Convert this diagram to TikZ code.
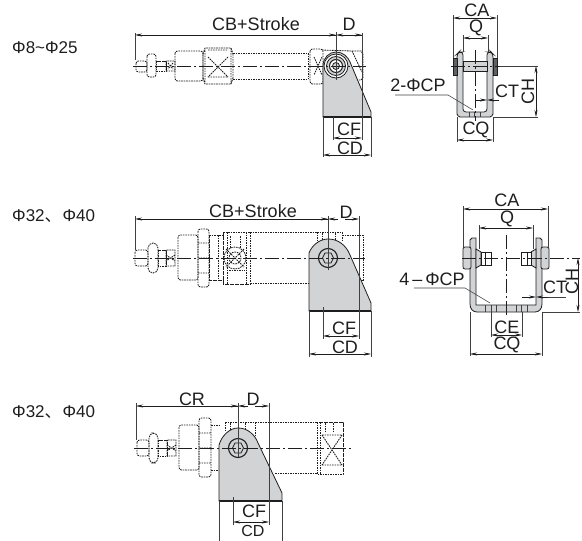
\documentclass[tikz,border=0pt]{standalone}
\usepackage{fontspec}
\setmainfont{Liberation Sans}
\newfontfamily\cjkf{Noto Sans CJK SC}
\usetikzlibrary{arrows.meta}
\definecolor{plategray}{HTML}{D2D3D5}
\definecolor{inkc}{HTML}{1E1E1E}
\tikzset{
 hid/.style={draw=inkc,line width=0.85pt,dash pattern=on 1.6pt off 0.9pt},
 hidr/.style={hid,rounded corners=2.5pt},
 plate/.style={draw=inkc,line width=0.8pt,fill=plategray},
 solidl/.style={draw=inkc,line width=0.8pt},
 ctr/.style={draw=inkc,line width=0.6pt,dash pattern=on 14pt off 3pt on 2pt off 3pt},
 dimt/.style={draw=inkc,line width=0.55pt,{Stealth[length=7pt,width=3pt]}-{Stealth[length=7pt,width=3pt]}},
 hd/.style={draw=inkc,line width=0.55pt,-{Stealth[length=7pt,width=3pt]}},
 extl/.style={draw=inkc!85,line width=0.55pt},
 lab/.style={font=\fontsize{18}{18}\selectfont,inner sep=0pt,text=inkc},
 side/.style={font=\fontsize{17}{17}\selectfont,inner sep=0pt,text=inkc,anchor=west},
}
\begin{document}
\begin{tikzpicture}[x=1pt,y=-1pt]
\useasboundingbox (0,0) rectangle (582,541);
\clip (0,0) rectangle (582,541);
% side texts
\node[side] (t1) at (12,48) {Φ8\textasciitilde Φ25};
\node[side] (t2) at (12,216) {Φ32{\cjkf 、}\kern1pt Φ40};
\node[side] (t3) at (12,412) {Φ32{\cjkf 、}\kern1pt Φ40};

%%%%%%%% ROW 1 side view
\draw[hidr] (136,61) rectangle (147,72);
\draw[hidr] (147,54) rectangle (156,77);
\draw[hid] (156,61) rectangle (166,71);
\draw[hid] (166,61) rectangle (175,71) (168,63)--(173,69) (173,63)--(168,69);
\draw[hidr] (175,51) rectangle (203,81);
\draw[hid] (203,54)--(205,48)--(231,48)--(233,54) (203,78)--(205,84)--(231,84)--(233,78) (205,48)--(205,84) (231,48)--(231,84) (203,54)--(203,78) (233,54)--(233,78);
\draw[hid] (208,57)--(228,77) (228,57)--(208,77) (208,50)--(228,50) (208,77)--(228,77);
\draw[hid] (233,53)--(308,53) (233,79)--(308,79) (308,53)--(308,79);
\draw[hidr] (310,49) rectangle (323,84);
\draw[hid] (314,57)--(322,75) (322,57)--(314,75);
\draw[hid] (322,50)--(352,51)--(361,51)--(363,54)--(363,78)--(361,80)--(355,80);
\draw[hid] (352,51)--(362,72);
\draw[plate] (323,117)--(323,66) .. controls (323,58) and (329,52) .. (336,52) .. controls (343,52) and (348,57) .. (350,62) -- (371,112) -- (371,117) -- cycle;
\draw[solidl,line width=1.3pt] (323,117)--(371,117);
\draw[solidl,fill=white] (336,66) circle (12);
\draw[solidl,fill=plategray] (336,66) circle (9.5);
\draw[solidl,line width=1pt,fill=white] (336,66) circle (6.5);
\draw[solidl,fill=plategray] (336,66) circle (3.5);
\draw[ctr] (133,66)--(366,66);
\draw[extl] (336,32)--(336,80);
\draw[extl] (135,33)--(135,60);
\draw[extl] (362,33)--(362,140);
\draw[extl] (333,117)--(333,140);
\draw[extl] (323,117)--(323,157);
\draw[extl] (371,117)--(371,157);
\draw[hd] (336,35)--(135,35);
\draw[hd] (362,35)--(336,35);
\draw[hd] (326,35)--(336,35);
\draw[hd] (345,35)--(362,35);
\draw[dimt] (333,138)--(362,138);
\draw[dimt] (323,155)--(371,155);
\node[lab] (a1) at (256,24) {CB+Stroke};
\node[lab] (a2) at (349,24) {D};
\node[lab] (a3) at (349,129) {CF};
\node[lab] (a4) at (350,148) {CD};

%%%%%%%% ROW 1 front view
\draw[plate,rounded corners=3pt] (457,54)--(459,52)--(463,52)--(463,112)--(487,112)--(487,52)--(491,52)--(493,54)--(493,111) .. controls (493,115) and (491,117) .. (487,117)--(463,117) .. controls (459,117) and (457,115) .. (457,111) --cycle;
\draw[plate] (463,61) rectangle (487,71);
\draw[solidl,fill=inkc!70] (453,58) rectangle (457,75);
\draw[solidl,fill=inkc!70] (493,58) rectangle (497,75);
\draw[extl] (469,112)--(469,117) (474,112)--(474,117) (480,112)--(480,117);
\draw[ctr] (475,50)--(475,121);
\draw[ctr] (451,66)--(500,66);
\draw[extl] (500,66)--(538,66);
\draw[extl] (453,15)--(453,58) (497,15)--(497,58);
\draw[extl] (463,35)--(463,52) (488,35)--(488,52);
\draw[dimt] (453,18)--(497,18);
\draw[dimt] (463,38)--(488,38);
\draw[extl] (493,117)--(538,117);
\draw[dimt] (536,66)--(536,117);
\draw[extl] (457,117)--(457,142) (493,117)--(493,142);
\draw[dimt] (457,140)--(493,140);
\draw[hd] (475,100)--(487,100);
\draw[hd] (499,100)--(487,100);
\node[lab] (b1) at (477,10) {CA};
\node[lab] (b2) at (476,28) {Q};
\node[lab] (b3) at (507,91) {CT};
\node[lab,rotate=90] (b4) at (528,91) {CH};
\node[lab] (b5) at (476,130) {CQ};
\node[lab] (b6) at (418,85) {2-ΦCP};
\coordinate (b7) at (395,95);
\coordinate (b8) at (448,95);
\coordinate (b9) at (473,110);
\draw[extl] (b7)--(b8)--(b9);

%%%%%%%% ROW 2 side view
\draw[hidr] (135,250) rectangle (148,266);
\draw[hidr,rounded corners=5pt] (148,243) rectangle (158,273);
\draw[hid] (158,250) rectangle (166,266);
\draw[hid] (166,250) rectangle (175,266) (166,255)--(175,261) (175,255)--(166,261);
\draw[hidr] (178,235) rectangle (198,280);
\draw[hidr] (198,229) rectangle (209,287) (198,243)--(209,243) (198,258)--(209,258) (198,273)--(209,273);
\draw[hid] (209,235)--(223,235)--(223,280)--(209,280)--cycle (218,235)--(218,280);
\draw[hid] (223,232)--(250,232)--(250,284)--(223,284)--cycle (227,232)--(227,284) (246,232)--(246,284);
\draw[hid] (230,236)--(230,248) (240,236)--(240,248) (229,270)--(245,270);
\draw[hid] (235,258) circle (11);
\draw[hid] (235,258) circle (6);
\draw[hid] (226,249)--(244,267) (244,249)--(226,267);
\draw[hid] (250,232)--(317,232) (250,283)--(317,283);
\draw[hid] (317,232)--(317,240) (317,232)--(342,232)--(342,240);
\draw[hid] (322,233)--(322,240) (328,233)--(328,240) (335,233)--(335,240);
\draw[hid] (342,235)--(363,235)--(363,280)--(354,280);
\draw[plate] (309,311)--(309,253) .. controls (312,245) and (320,239) .. (328,239) .. controls (338,239) and (346,245) .. (350,255) -- (371,303) -- (371,311) -- cycle;
\draw[solidl,line width=1.3pt] (309,311)--(371,311);
\draw[solidl,line width=1.1pt,fill=plategray] (328,258) circle (9.5);
\draw[solidl] (322.5,258)--(325,253)--(331,253)--(333.5,258)--(331,263)--(325,263)--cycle;
\draw[ctr] (133,258)--(365,258);
\draw[extl] (328,216)--(328,270);
\draw[extl] (135,216)--(135,250);
\draw[extl] (359,216)--(359,339);
\draw[extl] (323,307)--(323,339);
\draw[extl] (309,311)--(309,357);
\draw[extl] (371,311)--(371,357);
\draw[hd] (328,219)--(135,219);
\draw[hd] (318,219)--(328,219);
\draw[hd] (338,219)--(328,219);
\draw[hd] (345,219)--(359,219);
\draw[dimt] (323,336)--(359,336);
\draw[dimt] (309,354)--(371,354);
\node[lab] (c1) at (253,211) {CB+Stroke};
\node[lab] (c2) at (346,212) {D};
\node[lab] (c3) at (344,328) {CF};
\node[lab] (c4) at (345,347) {CD};

%%%%%%%% ROW 2 front view
\draw[plate] (470,240)--(472,238)--(476,238)--(476,305)--(536,305)--(536,238)--(540,238)--(542,240)--(542,304) .. controls (542,309) and (539,312) .. (535,312)--(477,312) .. controls (473,312) and (470,309) .. (470,304) -- cycle;
\draw[plate,rounded corners=2pt] (463,247) rectangle (471,269);
\draw[plate,rounded corners=2pt] (541,247) rectangle (549,269);
\draw[plate] (476,249)--(481,252)--(481,265)--(476,268)--cycle;
\draw[plate] (536,249)--(531,252)--(531,265)--(536,268)--cycle;
\draw[solidl,fill=white] (481,252) rectangle (491,265) (485,252)--(485,265);
\draw[solidl,fill=white] (521,252) rectangle (531,265) (527,252)--(527,265);
\draw[extl] (485,305)--(485,312) (491,305)--(491,312) (496,305)--(496,312) (516,305)--(516,312) (521,305)--(521,312) (527,305)--(527,312);
\draw[ctr] (506,235)--(506,316);
\draw[ctr] (462,258)--(580,258);
\draw[extl] (463,206)--(463,247) (548,206)--(548,247);
\draw[extl] (479,225)--(479,249) (533,225)--(533,249);
\draw[dimt] (463,209)--(548,209);
\draw[dimt] (479,228)--(533,228);
\draw[extl] (542,312)--(580,312);
\draw[dimt] (578,258)--(578,312);
\draw[extl] (491,312)--(491,337) (522,312)--(522,337);
\draw[dimt] (491,335)--(522,335);
\draw[extl] (470,312)--(470,356) (542,312)--(542,356);
\draw[dimt] (470,354)--(542,354);
\draw[hd] (522,297)--(536,297);
\draw[hd] (548,297)--(536,297);
\draw[extl] (548,297)--(566,297);
\node[lab] (d1) at (507,200) {CA};
\node[lab] (d2) at (507,219) {Q};
\node[lab] (d3) at (555,287) {CT};
\node[lab,rotate=90] (d4) at (572,281) {CH};
\node[lab] (d5) at (507,327) {CE};
\node[lab] (d6) at (507,345) {CQ};
\node[lab] (d7) at (432,279) {4\,–\,ΦCP};
\coordinate (d8) at (414,288);
\coordinate (d9) at (465,288);
\coordinate (d10) at (490,303);
\draw[extl] (d8)--(d9)--(d10);

%%%%%%%% ROW 3 side view
\draw[hidr] (137,440) rectangle (149,456);
\draw[hidr,rounded corners=5pt] (149,433) rectangle (158,463);
\draw[hid] (158,440) rectangle (167,456);
\draw[hid] (167,440) rectangle (176,456) (167,445)--(176,451) (176,445)--(167,451);
\draw[hidr] (179,425) rectangle (199,470);
\draw[hidr] (199,418) rectangle (211,477) (199,433)--(211,433) (199,448)--(211,448) (199,463)--(211,463);
\draw[hid] (211,425)--(220,425) (211,470)--(220,470);
\draw[hid] (225,422)--(255,422)--(255,435) (225,422)--(225,430) (230,423)--(230,430) (245,423)--(245,430);
\draw[hid] (255,422)--(317,422) (275,473)--(317,473);
\draw[hid] (317,422) rectangle (343,474);
\draw[hid] (320,422)--(320,474) (325,423)--(325,432) (333,423)--(333,432);
\draw[hid] (322,435)--(342,465) (342,435)--(322,465) (322,435)--(342,435) (322,465)--(342,465);
\draw[plate] (219,501)--(219,445) .. controls (222,435) and (230,428) .. (238,428) .. controls (248,428) and (255,435) .. (258,443) -- (282,493) -- (282,501) -- cycle;
\draw[solidl,line width=1.3pt] (219,501)--(282,501);
\draw[solidl,line width=1.1pt,fill=plategray] (238,448) circle (9.5);
\draw[solidl] (232.5,448)--(235,443)--(241,443)--(243.5,448)--(241,453)--(235,453)--cycle;
\draw[ctr] (134,448)--(352,448);
\draw[extl] (238,403)--(238,457);
\draw[extl] (136,403)--(136,440);
\draw[extl] (269,403)--(269,525);
\draw[extl] (233,497)--(233,525);
\draw[extl] (219,501)--(219,541);
\draw[extl] (282,501)--(282,541);
\draw[hd] (238,406)--(136,406);
\draw[hd] (228,406)--(238,406);
\draw[hd] (248,406)--(238,406);
\draw[hd] (255,406)--(269,406);
\draw[dimt] (233,522)--(269,522);
\node[lab] (e1) at (192,399) {CR};
\node[lab] (e2) at (253,399) {D};
\node[lab] (e3) at (254,511) {CF};
\node[lab,font=\fontsize{16}{16}\selectfont] (e4) at (253,531) {CD};
\end{tikzpicture}
\end{document}
